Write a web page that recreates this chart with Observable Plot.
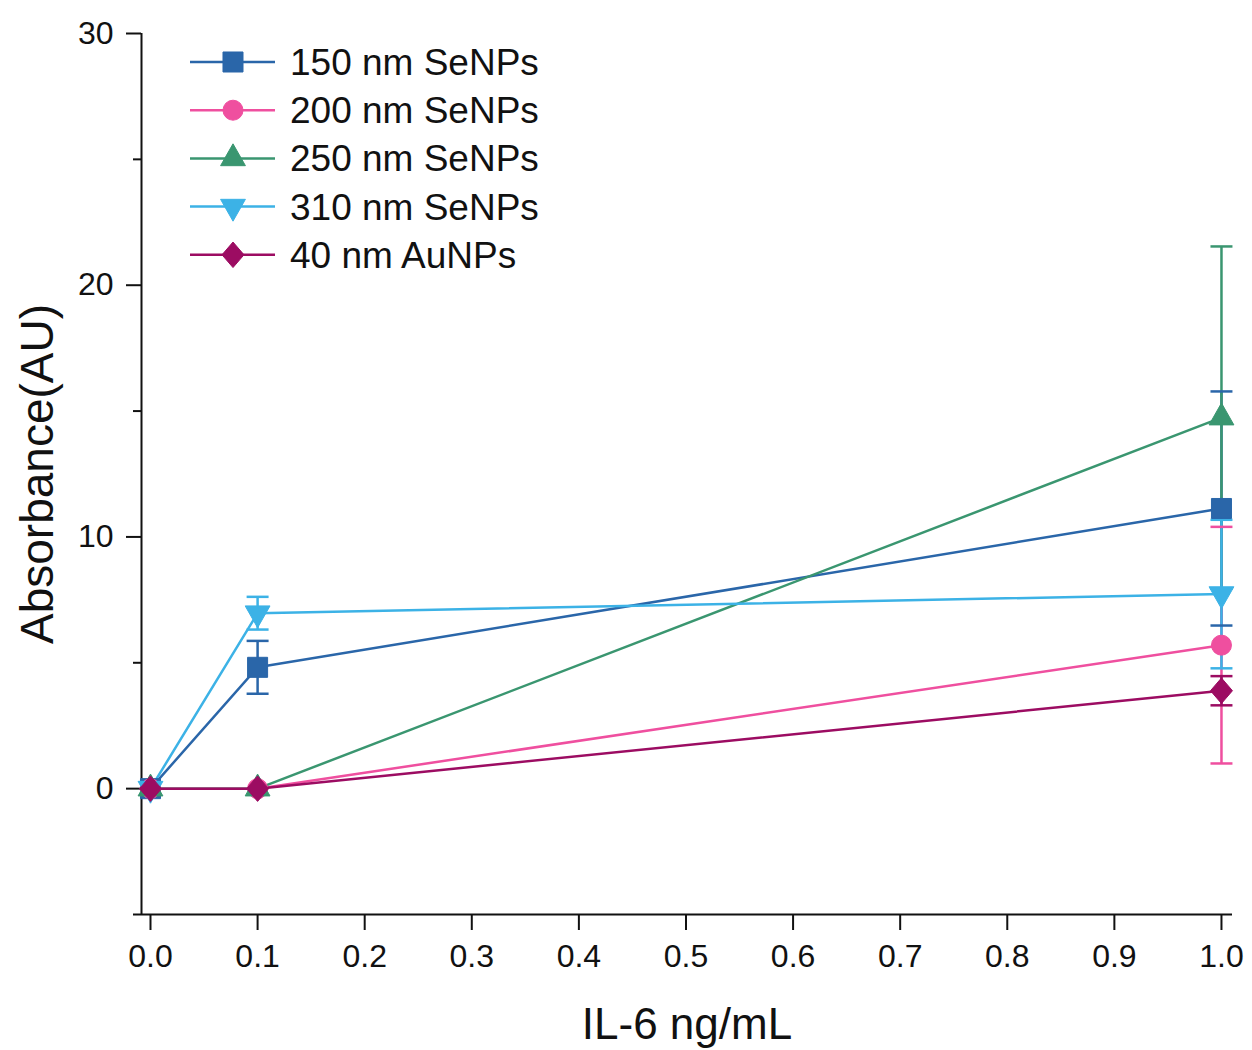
<!DOCTYPE html>
<html>
<head>
<meta charset="utf-8">
<script src="https://cdn.jsdelivr.net/npm/d3@7"></script>
<script src="https://cdn.jsdelivr.net/npm/@observablehq/plot@0.6"></script>
<style>
  html, body { margin: 0; padding: 0; background: #fff; }
  #chart { width: 1252px; height: 1050px; }
</style>
</head>
<body>
<div id="chart"></div>
<script>
// ---- data ----
const concentrations = [0, 0.1, 1.0];
const seriesNames = ["150 nm SeNPs", "200 nm SeNPs", "250 nm SeNPs", "310 nm SeNPs", "40 nm AuNPs"];
const seriesColors = ["#2a66a9", "#ef4f9f", "#3a9670", "#3cb2e6", "#9c0c62"];
const mean150 = [0, 4.82, 11.13];
const sd150   = [0, 1.05, 4.65];
const mean200 = [0, 0, 5.70];
const sd200   = [0, 0, 4.70];
const mean250 = [0, 0, 14.74];
const sd250   = [0, 0, 6.80];
const mean310 = [0, 6.97, 7.73];
const sd310   = [0, 0.65, 2.95];
const meanAu  = [0, 0, 3.89];
const sdAu    = [0, 0, 0.58];
const xTicks = [0, 0.1, 0.2, 0.3, 0.4, 0.5, 0.6, 0.7, 0.8, 0.9, 1.0];
const yMajorTicks = [0, 10, 20, 30];
const yMinorTicks = [-5, 5, 15, 25];
const xDomain = [-0.0084, 1.0103];
const yDomain = [-5, 30];

const means = [mean150, mean200, mean250, mean310, meanAu];
const sds = [sd150, sd200, sd250, sd310, sdAu];

// ---- custom symbols ----
const symSquare = {draw(c, s) { const a = Math.sqrt(s) * 1.13 / 2; c.rect(-a, -a, 2 * a, 2 * a); }};
const symCircle = {draw(c, s) { const r = Math.sqrt(s / Math.PI); c.moveTo(r, 0); c.arc(0, 0, r, 0, 2 * Math.PI); }};
const symUp = {draw(c, s) { const w = Math.sqrt(s) * 1.4, h = w * 0.88; c.moveTo(0, -2 * h / 3); c.lineTo(w / 2, h / 3); c.lineTo(-w / 2, h / 3); c.closePath(); }};
const symDown = {draw(c, s) { const w = Math.sqrt(s) * 1.4, h = w * 0.88; c.moveTo(0, 2 * h / 3); c.lineTo(w / 2, -h / 3); c.lineTo(-w / 2, -h / 3); c.closePath(); }};
const symDiamond = {draw(c, s) { const w = Math.sqrt(s) * 0.62, h = Math.sqrt(s) * 0.72; c.moveTo(0, -h); c.lineTo(w, 0); c.lineTo(0, h); c.lineTo(-w, 0); c.closePath(); }};
const symCap = {draw(c, s) { const w = Math.sqrt(s) * 0.62; c.moveTo(-w, 0); c.lineTo(w, 0); }};
const seriesSymbols = [symSquare, symCircle, symUp, symDown, symDiamond];

// ---- tables ----
const rows = [];
seriesNames.forEach((name, i) => {
  concentrations.forEach((x, j) => {
    rows.push({series: name, x, y: means[i][j], sd: sds[i][j], lo: means[i][j] - sds[i][j], hi: means[i][j] + sds[i][j]});
  });
});
const errRows = rows.filter(d => d.sd > 0);
const capRows = errRows.flatMap(d => [{series: d.series, x: d.x, y: d.lo}, {series: d.series, x: d.x, y: d.hi}]);

const font = "'Liberation Sans', Arial, Helvetica, sans-serif";

const markerMarks = seriesNames.map((name, i) =>
  Plot.dot(rows.filter(d => d.series === name), {
    x: "x", y: "y", r: 10, symbol: seriesSymbols[i], fill: seriesColors[i], stroke: seriesColors[i], strokeWidth: 1
  })
);

const chart = Plot.plot({
  width: 1252,
  height: 1050,
  marginLeft: 141,
  marginRight: 20,
  marginTop: 33,
  marginBottom: 136,
  style: {fontFamily: font, fontSize: "32px", color: "#111", background: "#fff"},
  x: {domain: xDomain, axis: null},
  y: {domain: yDomain, axis: null},
  color: {domain: seriesNames, range: seriesColors},
  marks: [
    Plot.axisX({ticks: xTicks, tickSize: 16, tickPadding: 14, tickFormat: d3.format(".1f"), label: null, strokeWidth: 2, fontSize: 32}),
    Plot.axisY({ticks: yMajorTicks, tickSize: 15, tickPadding: 13, label: null, strokeWidth: 2, fontSize: 32}),
    Plot.axisY({ticks: yMinorTicks, tickSize: 8, tickFormat: () => "", label: null, strokeWidth: 2}),
    Plot.ruleX([xDomain[0]], {stroke: "#111", strokeWidth: 2}),
    Plot.ruleY([yDomain[0]], {stroke: "#111", strokeWidth: 2}),
    Plot.line(rows, {x: "x", y: "y", z: "series", stroke: "series", strokeWidth: 2.5}),
    Plot.ruleX(errRows, {x: "x", y1: "lo", y2: "hi", stroke: "series", strokeWidth: 2.5}),
    Plot.dot(capRows, {x: "x", y: "y", r: 10, symbol: symCap, stroke: "series", fill: "none", strokeWidth: 2.5}),
    ...markerMarks,
    Plot.text(["IL-6 ng/mL"], {text: d => d, frameAnchor: "bottom", textAnchor: "middle", dy: 124, fontSize: 44, fill: "#111"}),
    Plot.text(["Absorbance(AU)"], {text: d => d, frameAnchor: "left", textAnchor: "middle", dx: -103, rotate: -90, fontSize: 46, fill: "#111"})
  ]
});

// ---- legend (inside plot area, top-left) ----
const svg = d3.select(chart);
const lg = svg.append("g").attr("font-family", font).attr("font-size", 37).attr("text-anchor", "start");
seriesNames.forEach((name, i) => {
  const cy = 62 + i * 48.2;
  lg.append("line").attr("x1", 190).attr("x2", 275).attr("y1", cy).attr("y2", cy)
    .attr("stroke", seriesColors[i]).attr("stroke-width", 2.5);
  lg.append("path").attr("transform", `translate(233,${cy})`)
    .attr("d", d3.symbol(seriesSymbols[i], Math.PI * 100)())
    .attr("fill", seriesColors[i]).attr("stroke", seriesColors[i]);
  lg.append("text").attr("x", 290).attr("y", cy).attr("dy", "0.35em")
    .attr("text-anchor", "start").attr("fill", "#111").text(name);
});

document.getElementById("chart").appendChild(chart);
</script>
</body>
</html>
